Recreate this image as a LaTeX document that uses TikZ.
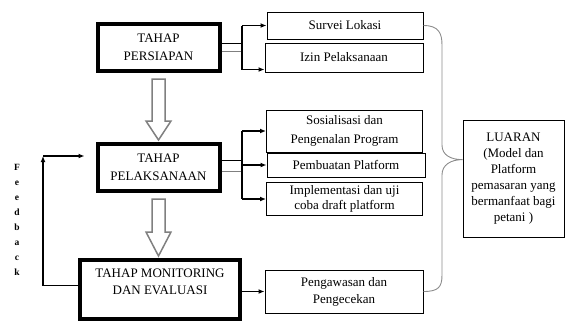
\documentclass[tikz,border=0pt]{standalone}
\usepackage{fontspec}
\setmainfont{Liberation Serif}
\usepackage{tikz}
\usetikzlibrary{arrows.meta,positioning,calc}
\definecolor{HollowGray}{RGB}{128,128,128}
\definecolor{BraceGray}{RGB}{140,140,140}

% hollow block arrow between two stage boxes
\newcommand{\hollowdown}[3]{%
  \draw[hollow] let \p1=(#1.south), \p2=(#2.north) in
    (\x1-6.5pt,\y1-6pt) -- (\x1-6.5pt,\y2+#3) -- (\x1-12.5pt,\y2+#3) -- (\x1,\y2+2pt)
    -- (\x1+12.5pt,\y2+#3) -- (\x1+6.5pt,\y2+#3) -- (\x1+6.5pt,\y1-6pt) -- cycle;}

\begin{document}
\begin{tikzpicture}[
    x=1pt,y=-1pt,
    stage/.style={draw,line width=4pt,minimum width=122pt,minimum height=47pt,align=center,inner sep=0pt,font=\fontsize{13}{18}\selectfont},
    task/.style={draw,line width=1pt,minimum width=156pt,align=center,inner sep=0pt,font=\fontsize{13}{17}\selectfont},
    conn/.style={line width=1.2pt},
    conngray/.style={line width=1.2pt,draw=HollowGray},
    arr/.style={-{Latex[length=6pt,width=5pt]},line width=1.2pt},
    hollow/.style={draw=HollowGray,line width=1.5pt,fill=white},
    brace/.style={draw=BraceGray,line width=0.9pt}
  ]
    \useasboundingbox (0,0) rectangle (566,322);
    % stages
    \node[stage] (persiapan) at (158.5,47.5) {TAHAP\\PERSIAPAN};
    \node[stage] (pelaksanaan) at (158.5,167.5) {TAHAP\\PELAKSANAAN};
    \node[stage,minimum width=160pt,minimum height=59pt] (monitoring) at (160,289.5) {};
    \node[font=\fontsize{13}{17}\selectfont,align=center] (monitoringtext) at (160,282) {TAHAP MONITORING\\DAN EVALUASI};
    % tasks
    \node[task,minimum height=27pt] (survei) at (345,25.5) {Survei Lokasi};
    \node[task,minimum width=158pt,minimum height=29pt] (izin) at (344,57.5) {Izin Pelaksanaan};
    \node[task,minimum height=42pt,font=\fontsize{13}{18.5}\selectfont] (sosialisasi) at (344.5,131) {Sosialisasi dan\\Pengenalan Program};
    \node[task,minimum width=158pt,minimum height=24pt] (pembuatan) at (346,165) {Pembuatan Platform};
    \node[task,minimum height=33pt,font=\fontsize{13}{15.5}\selectfont] (implementasi) at (344.5,199) {Implementasi dan uji\\coba draft platform};
    \node[task,minimum width=158pt,minimum height=43pt] (pengawasan) at (344,291.5) {Pengawasan dan\\Pengecekan};
    \node[task,minimum width=101pt,minimum height=117pt,font=\fontsize{13}{16}\selectfont] (luaran) at (513.5,178.5) {LUARAN\\(Model dan\\Platform\\pemasaran yang\\bermanfaat bagi\\petani )};
    \node[font=\bfseries\fontsize{9.5}{15}\selectfont,align=center] (feedback) at (17,220) {F\\e\\e\\d\\b\\a\\c\\k};

    % persiapan fork
    \coordinate (forkA) at (242,0);
    \coordinate (izinin) at ($(izin.south west)+(0,-3)$);
    \coordinate (persA) at ($(persiapan.east)+(0,-4)$);
    \coordinate (persB) at ($(persiapan.east)+(0,4)$);
    \draw[conn] (persA) -- (persA -| forkA);
    \draw[conngray] (persB) -- (persB -| forkA);
    \draw[conn] (survei.west -| forkA) -- (izinin -| forkA);
    \draw[arr] (survei.west -| forkA) -- (survei.west);
    \draw[arr] (izinin -| forkA) -- (izinin);

    % pelaksanaan fork
    \coordinate (pelA) at ($(pelaksanaan.east)+(0,-7)$);
    \coordinate (pelB) at ($(pelaksanaan.east)+(0,4)$);
    \draw[conn] (pelA) -- (pelA -| forkA);
    \draw[conngray] (pelB) -- (pelB -| forkA);
    \draw[conn] (sosialisasi.west -| forkA) -- (implementasi.west -| forkA);
    \draw[arr] (sosialisasi.west -| forkA) -- (sosialisasi.west);
    \draw[arr] (pembuatan.west -| forkA) -- (pembuatan.west);
    \draw[arr] (implementasi.west -| forkA) -- (implementasi.west);

    % monitoring
    \draw[arr] (monitoring.east |- pengawasan.west) -- (pengawasan.west);

    % feedback loop
    \coordinate (fbcorner) at (43,156);
    \coordinate (fbstart) at ($(monitoring.west)+(0,-4)$);
    \draw[arr] (fbstart) -| (fbcorner);
    \draw[arr,shorten >=11pt] (fbcorner) -- (fbcorner -| pelaksanaan.west);

    % hollow arrows
    \hollowdown{persiapan}{pelaksanaan}{21pt}
    \hollowdown{pelaksanaan}{monitoring}{26pt}

    % brace to output
    \coordinate (bracetip) at ($(luaran.north west)!0.34!(luaran.south west)$);
    \draw[brace] (survei.east) .. controls +(15,0) and +(0,-12) .. (442,45) -- (442,145)
      .. controls +(0,10) and +(-12,0) .. (bracetip)
      .. controls +(-12,0) and +(0,-10) .. (442,175) -- (442,275)
      .. controls +(0,12) and +(15,0) .. (pengawasan.east);
  \end{tikzpicture}
\end{document}
